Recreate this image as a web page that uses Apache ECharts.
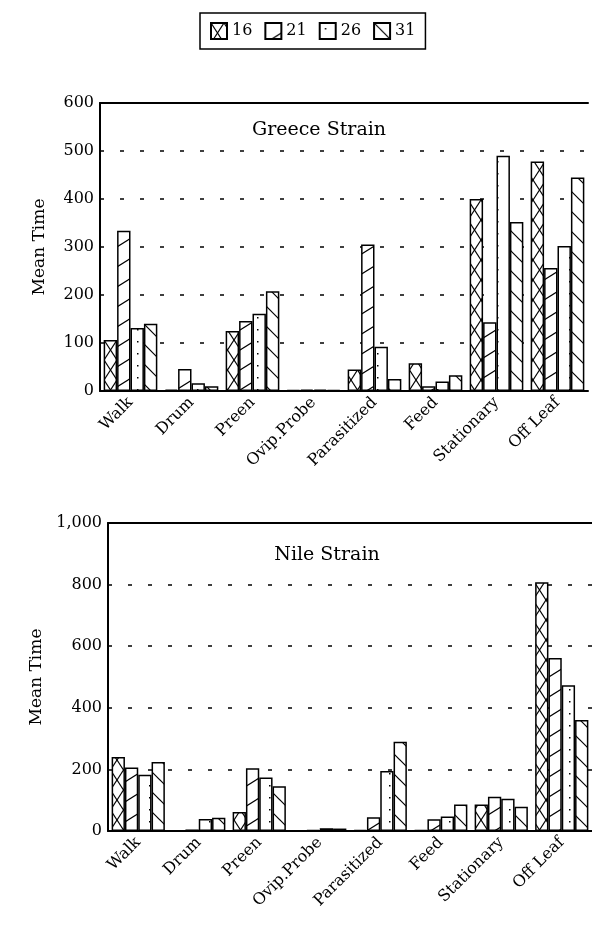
<!DOCTYPE html>
<html>
<head>
<meta charset="utf-8">
<script src="https://cdn.jsdelivr.net/npm/echarts@6/dist/echarts.min.js"></script>
<style>
  html, body { margin: 0; background: #fff; }
  #chart { width: 592px; height: 928px; }
</style>
</head>
<body>
<div id="chart"></div>
<script>
// behaviours on the x axis, temperatures in the legend
var behaviours = ['Walk', 'Drum', 'Preen', 'Ovip.Probe', 'Parasitized', 'Feed', 'Stationary', 'Off Leaf'];
var temps = ['16', '21', '26', '31'];

// Greece strain, mean time per behaviour
var greece16 = [106, 3, 125, 2, 45, 58, 400, 478];
var greece21 = [334, 46, 146, 3, 305, 10, 143, 256];
var greece26 = [131, 16, 161, 3, 92, 20, 490, 302];
var greece31 = [140, 10, 208, 2, 25, 33, 352, 445];

// Nile strain
var nile16 = [240, 0, 62, 1, 3, 3, 86, 808];
var nile21 = [206, 5, 204, 3, 45, 38, 111, 562];
var nile26 = [183, 39, 174, 9, 195, 47, 105, 473];
var nile31 = [224, 43, 145, 8, 290, 86, 79, 360];

var greeceTicks = { min: 0, max: 600, interval: 100 };
var nileTicks = { min: 0, max: 1000, interval: 200 };

var FONT = 'DejaVu Serif';

// black and white hatch fills, one per temperature
function makePattern(kind) {
  var c = document.createElement('canvas');
  var ctx, w, h;
  if (kind === 'cross') { w = 13; h = 20; }
  else if (kind === 'slash') { w = 32; h = 20; }
  else if (kind === 'back') { w = 20; h = 20; }
  else { w = 12; h = 12; }
  c.width = w; c.height = h;
  ctx = c.getContext('2d');
  ctx.fillStyle = '#fff';
  ctx.fillRect(0, 0, w, h);
  ctx.strokeStyle = '#000';
  ctx.fillStyle = '#000';
  ctx.lineWidth = 1.2;
  function seg(x1, y1, x2, y2) {
    for (var dx = -w; dx <= w; dx += w) {
      for (var dy = -h; dy <= h; dy += h) {
        ctx.beginPath();
        ctx.moveTo(x1 + dx, y1 + dy);
        ctx.lineTo(x2 + dx, y2 + dy);
        ctx.stroke();
      }
    }
  }
  if (kind === 'cross') {
    seg(0, 0, w, h);
    seg(w, 0, 0, h);
  } else if (kind === 'slash') {
    seg(0, h, w, 0);
  } else if (kind === 'back') {
    seg(0, 0, w, h);
  } else {
    ctx.fillRect(5, 5, 1.5, 1.5);
  }
  return { image: c, repeat: 'repeat' };
}

var fills = [makePattern('cross'), makePattern('slash'), makePattern('dots'), makePattern('back')];

var greeceData = [greece16, greece21, greece26, greece31];
var nileData = [nile16, nile21, nile26, nile31];

function barSeries(values, idx, g) {
  return {
    type: 'bar',
    name: temps[idx],
    xAxisIndex: g,
    yAxisIndex: g,
    data: values,
    barGap: '0%',
    barCategoryGap: '12%',
    itemStyle: { color: fills[idx], borderColor: '#000', borderWidth: 1.5 },
    emphasis: { disabled: true }
  };
}

var series = [];
for (var i = 0; i < 4; i++) series.push(barSeries(greeceData[i], i, 0));
for (var j = 0; j < 4; j++) series.push(barSeries(nileData[j], j, 1));

function catAxis(g) {
  return {
    type: 'category',
    gridIndex: g,
    data: behaviours,
    axisLine: { lineStyle: { color: '#000', width: 2 } },
    axisTick: { show: false },
    axisLabel: { rotate: 45, margin: 9, color: '#000', fontFamily: FONT, fontSize: 16, interval: 0 }
  };
}

function topFrame(g) {
  return {
    type: 'category',
    gridIndex: g,
    position: 'top',
    data: behaviours,
    axisLine: { lineStyle: { color: '#000', width: 2 } },
    axisTick: { show: false },
    axisLabel: { show: false }
  };
}

function valAxis(g, ticks) {
  return {
    type: 'value',
    gridIndex: g,
    min: ticks.min,
    max: ticks.max,
    interval: ticks.interval,
    name: 'Mean Time',
    nameLocation: 'middle',
    nameGap: 52,
    nameTextStyle: { fontFamily: FONT, fontSize: 17, color: '#000' },
    axisLine: { show: true, lineStyle: { color: '#000', width: 2 } },
    axisTick: { show: false },
    axisLabel: {
      color: '#000', fontFamily: FONT, fontSize: 16, margin: 6,
      formatter: function (v) { return v.toLocaleString('en-US'); }
    },
    splitLine: { lineStyle: { color: '#000', type: [4, 16], width: 1.5 } }
  };
}

var chart = echarts.init(document.getElementById('chart'), null, { renderer: 'canvas' });
chart.setOption({
  animation: false,
  backgroundColor: '#fff',
  title: [
    { text: 'Greece Strain', left: 314, top: 116, textAlign: 'center',
      textStyle: { fontFamily: FONT, fontSize: 19, fontWeight: 'normal', color: '#000' } },
    { text: 'Nile Strain', left: 322, top: 541, textAlign: 'center',
      textStyle: { fontFamily: FONT, fontSize: 19, fontWeight: 'normal', color: '#000' } }
  ],
  legend: {
    data: temps,
    left: 200,
    top: 13,
    padding: [9, 10],
    itemWidth: 16,
    itemHeight: 16,
    itemGap: 12,
    icon: 'rect',
    borderColor: '#000',
    borderWidth: 1.5,
    textStyle: { fontFamily: FONT, fontSize: 16, color: '#000' },
    selectedMode: false
  },
  grid: [
    { left: 100, top: 103, width: 488, height: 288 },
    { left: 108, top: 523, width: 484, height: 308 }
  ],
  xAxis: [catAxis(0), catAxis(1), topFrame(0), topFrame(1)],
  yAxis: [valAxis(0, greeceTicks), valAxis(1, nileTicks)],
  series: series
});
</script>
</body>
</html>
